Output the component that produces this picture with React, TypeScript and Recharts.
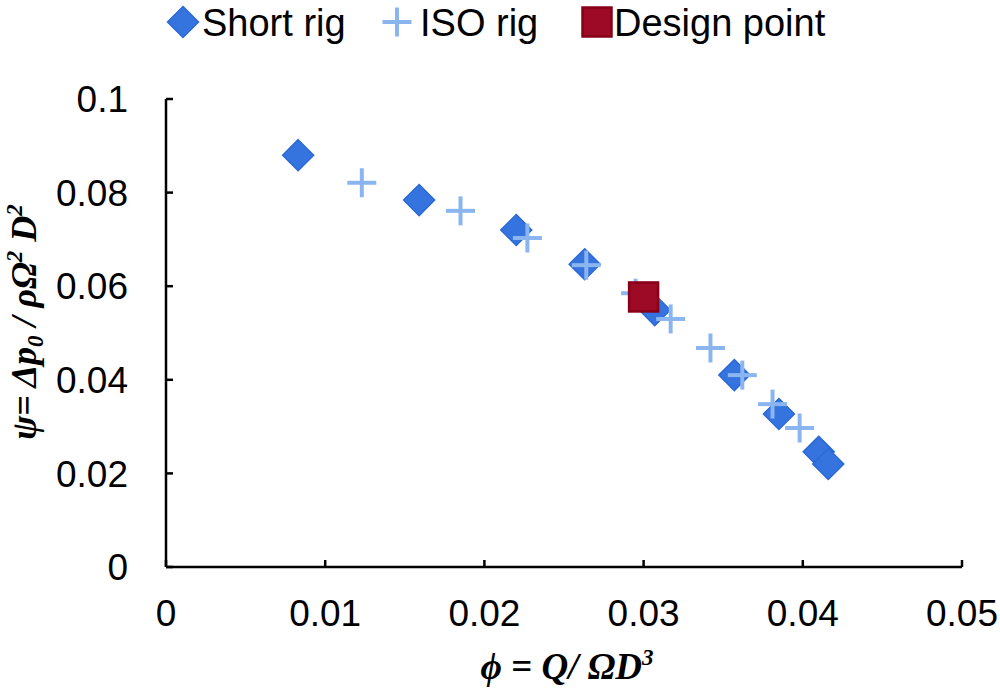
import React from "react";
import {
  ScatterChart,
  Scatter,
  XAxis,
  YAxis,
  Legend,
} from "recharts";

// ---- data ----
const shortRigPhi = [0.0083, 0.0159, 0.022, 0.0263, 0.0307, 0.0357, 0.0385, 0.041, 0.0416];
const shortRigPsi = [0.088, 0.0784, 0.072, 0.0647, 0.0549, 0.041, 0.0327, 0.0246, 0.022];

const isoRigPhi = [0.0123, 0.0185, 0.0227, 0.0264, 0.0295, 0.0317, 0.0342, 0.0362, 0.0381, 0.0398];
const isoRigPsi = [0.0821, 0.0761, 0.0703, 0.0645, 0.0585, 0.053, 0.0468, 0.041, 0.0348, 0.0297];

const designPhi = [0.03];
const designPsi = [0.0577];

const xTicks = [0, 0.01, 0.02, 0.03, 0.04, 0.05];
const yTicks = [0, 0.02, 0.04, 0.06, 0.08, 0.1];

const seriesNames = ["Short rig", "ISO rig", "Design point"];

const toPoints = (xs: number[], ys: number[]) => xs.map((x, i) => ({ x, y: ys[i] }));

const shortRig = toPoints(shortRigPhi, shortRigPsi);
const isoRig = toPoints(isoRigPhi, isoRigPsi);
const design = toPoints(designPhi, designPsi);

const DIAMOND_FILL = "#3574DF";
const DIAMOND_STROKE = "#2B69D8";
const CROSS_COLOR = "#8BB5EF";
const SQUARE_FILL = "#9C0A25";
const SQUARE_STROKE = "#880018";

const Diamond = (props: any) => {
  const { cx, cy } = props;
  const r = 15.5;
  return (
    <polygon
      points={`${cx},${cy - r} ${cx + r},${cy} ${cx},${cy + r} ${cx - r},${cy}`}
      fill={DIAMOND_FILL}
      stroke={DIAMOND_STROKE}
      strokeWidth={1.5}
    />
  );
};

const Cross = (props: any) => {
  const { cx, cy } = props;
  const r = 14.5;
  return (
    <g>
      <line x1={cx - r} y1={cy} x2={cx + r} y2={cy} stroke={CROSS_COLOR} strokeWidth={4} />
      <line x1={cx} y1={cy - r} x2={cx} y2={cy + r} stroke={CROSS_COLOR} strokeWidth={4} />
    </g>
  );
};

const Square = (props: any) => {
  const { cx, cy } = props;
  const h = 14.5;
  return (
    <rect
      x={cx - h}
      y={cy - h}
      width={2 * h}
      height={2 * h}
      fill={SQUARE_FILL}
      stroke={SQUARE_STROKE}
      strokeWidth={2.5}
    />
  );
};

const FONT = "'Liberation Sans', Arial, Helvetica, sans-serif";
const SERIF = "'Liberation Serif', 'Times New Roman', serif";

const LegendContent = () => (
  <svg width={1000} height={45} style={{ display: "block" }}>
    <Diamond cx={183} cy={22} />
    <text x={202} y={36} fontFamily={FONT} fontSize={38} fill="#000">
      {seriesNames[0]}
    </text>
    <Cross cx={397} cy={22} />
    <text x={420} y={36} fontFamily={FONT} fontSize={38} fill="#000">
      {seriesNames[1]}
    </text>
    <Square cx={597} cy={22} />
    <text x={614} y={36} fontFamily={FONT} fontSize={38} fill="#000">
      {seriesNames[2]}
    </text>
  </svg>
);

const XLabel = (props: any) => {
  const vb = props.viewBox || { x: 166, width: 796 };
  const cx = vb.x + vb.width / 2 + 3;
  return (
    <text
      x={cx}
      y={679}
      textAnchor="middle"
      fontFamily={SERIF}
      fontStyle="italic"
      fontWeight="bold"
      fontSize={37}
      fill="#000"
    >
      ϕ = Q/ ΩD
      <tspan dy={-14} fontSize={23}>3</tspan>
    </text>
  );
};

const YLabel = () => {
  const x = 36;
  const y = 322;
  return (
    <text
      x={x}
      y={y}
      transform={`rotate(-90, ${x}, ${y})`}
      textAnchor="middle"
      fontFamily={SERIF}
      fontStyle="italic"
      fontWeight="bold"
      fontSize={36}
      fill="#000"
    >
      ψ= Δp
      <tspan dy={7} fontSize={23}>0</tspan>
      <tspan dy={-7}> / ρΩ</tspan>
      <tspan dy={-14} fontSize={23}>2</tspan>
      <tspan dy={14}> D</tspan>
      <tspan dy={-14} fontSize={23}>2</tspan>
    </text>
  );
};

export default function App() {
  return (
    <div style={{ position: "absolute", left: 0, top: 0, width: 1000, height: 696, background: "#fff" }}>
      <ScatterChart
        width={1000}
        height={696}
        margin={{ top: 54, right: 38, bottom: 0, left: 0 }}
      >
        <Legend
          verticalAlign="top"
          align="left"
          height={45}
          wrapperStyle={{ top: 0, left: 0, width: 1000, height: 45 }}
          content={() => <LegendContent />}
        />
        <XAxis
          type="number"
          dataKey="x"
          domain={[0, 0.05]}
          ticks={xTicks}
          interval={0}
          height={129}
          stroke="#000"
          axisLine={{ stroke: "#000", strokeWidth: 2.5 }}
          tickLine={{ stroke: "#000", strokeWidth: 2.5 }}
          tickSize={-7}
          tickMargin={40}
          tick={{ fill: "#000", fontSize: 37, fontFamily: FONT }}
          label={{ content: XLabel }}
        />
        <YAxis
          type="number"
          dataKey="y"
          domain={[0, 0.1]}
          ticks={yTicks}
          interval={0}
          width={166}
          stroke="#000"
          axisLine={{ stroke: "#000", strokeWidth: 2.5 }}
          tickLine={{ stroke: "#000", strokeWidth: 2.5 }}
          tickSize={-7}
          tickMargin={45}
          tick={{ fill: "#000", fontSize: 37, fontFamily: FONT }}
          label={{ content: YLabel }}
        />
        <Scatter name={seriesNames[0]} data={shortRig} shape={Diamond} isAnimationActive={false} />
        <Scatter name={seriesNames[1]} data={isoRig} shape={Cross} isAnimationActive={false} />
        <Scatter name={seriesNames[2]} data={design} shape={Square} isAnimationActive={false} />
      </ScatterChart>
    </div>
  );
}
